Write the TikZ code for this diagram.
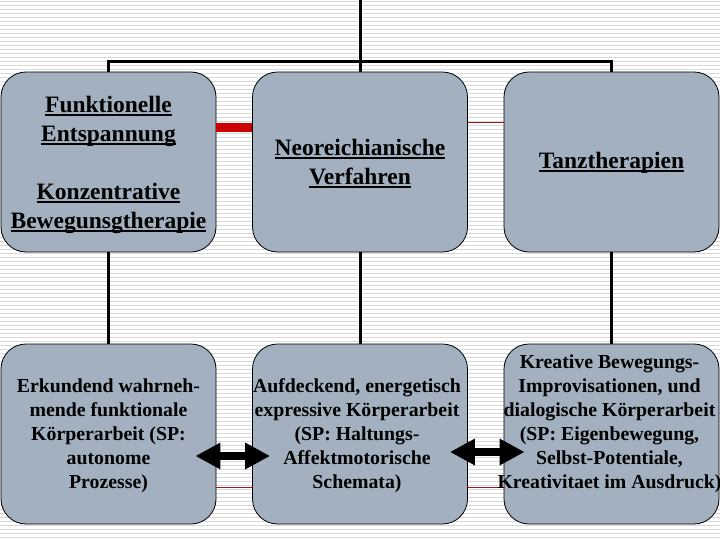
\documentclass[tikz,border=0pt]{standalone}
\usepackage{fontspec}
\setmainfont{Liberation Serif}
\usetikzlibrary{arrows.meta}
\newcommand\myul[1]{\setbox0\hbox{#1}\rlap{\rule[-3.5pt]{\wd0}{2pt}}\box0}
\definecolor{boxfill}{HTML}{A2B0BF}
\definecolor{stripe}{HTML}{D9D9D9}
\definecolor{redthick}{HTML}{CC0000}
\definecolor{redthin}{HTML}{A01818}
\tikzset{
  box/.style={draw=black, line width=0.8pt, fill=boxfill, rounded corners=25pt,
    minimum width=215pt, minimum height=180pt, inner sep=0pt},
  toptxt/.style={align=center, font=\fontsize{23.5}{29}\selectfont\bfseries, inner sep=0pt},
  bottxt/.style={align=center, font=\fontsize{19.8}{24}\selectfont\bfseries, inner sep=0pt},
  tree/.style={draw=black, line width=3pt},
  redbar/.style={draw=redthick, line width=9pt},
  redline/.style={draw=redthin, line width=1pt},
  dblarrow/.style={draw=black, line width=8pt, {Triangle[length=25pt,width=25pt]}-{Triangle[length=25pt,width=25pt]}}
}
\begin{document}
\begin{tikzpicture}[x=1pt,y=-1pt]
\useasboundingbox (0,0) rectangle (720,540);
\fill[white] (0,0) rectangle (720,540);
\foreach \i in {0,...,134} \draw[stripe, line width=1pt] (0,{4*\i+1.5}) -- (720,{4*\i+1.5});

% boxes
\node[box] (b1) at (108.5,162) {};
\node[box] (b2) at (360,162) {};
\node[box] (b3) at (611.5,162) {};
\node[box] (b4) at (108.5,434) {};
\node[box] (b5) at (360,434) {};
\node[box] (b6) at (611.5,434) {};

% tree connectors
\coordinate (top) at (360,0);
\draw[tree] (top) -- (b2.north);
\draw[tree] (b1.north) -- ++(0,-10) -| (b3.north);
\draw[tree] (b1.south) -- (b4.north);
\draw[tree] (b2.south) -- (b5.north);
\draw[tree] (b3.south) -- (b6.north);

% red links
\draw[redbar] ([yshift=34.5pt]b1.east) -- ([yshift=34.5pt]b2.west);
\draw[redline] ([yshift=39pt]b2.east) -- ([yshift=39pt]b3.west);
\draw[redline] ([yshift=-53pt]b4.east) -- ([yshift=-53pt]b5.west);
\draw[redline] ([yshift=-53pt]b5.east) -- ([yshift=-53pt]b6.west);

% texts
\node[toptxt] (t1) at ([yshift=-2.5pt]b1.center) {\myul{Funktionelle}\\\myul{Entspannung}\\[29pt]\myul{Konzentrative}\\\myul{Bewegunsgtherapie}};
\node[toptxt] (t2) at ([yshift=-1.5pt]b2.center) {\myul{Neoreichianische}\\\myul{Verfahren}};
\node[toptxt] (t3) at ([yshift=-1pt]b3.center) {\myul{Tanztherapien}};
\node[bottxt] (t4) at ([yshift=-1.5pt]b4.center) {Erkundend wahrneh-\\mende funktionale\\Körperarbeit (SP:\\autonome\\Prozesse)};
\node[bottxt] (t5) at ([xshift=-3pt,yshift=-1.5pt]b5.center) {Aufdeckend, energetisch\\expressive Körperarbeit\\(SP: Haltungs-\\Affektmotorische\\Schemata)};
\node[bottxt] (t6) at ([xshift=-2pt,yshift=10pt]b6.center) {Kreative Bewegungs-\\Improvisationen, und\\dialogische Körperarbeit\\(SP: Eigenbewegung,\\Selbst-Potentiale,\\Kreativitaet im Ausdruck)};

% double arrows
\draw[dblarrow] ([xshift=-21pt,yshift=-22pt]b4.east) -- ([xshift=18pt,yshift=-22pt]b5.west);
\draw[dblarrow] ([xshift=-18pt,yshift=-18pt]b5.east) -- ([xshift=21pt,yshift=-18pt]b6.west);
\end{tikzpicture}
\end{document}
